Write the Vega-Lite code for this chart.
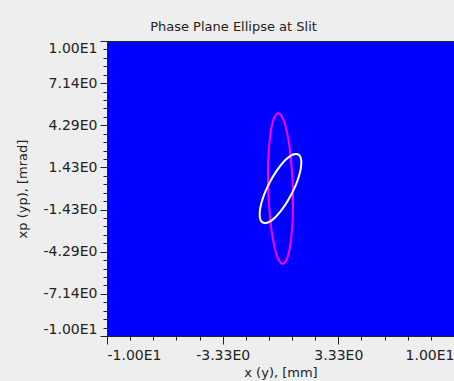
{
  "$schema": "https://vega.github.io/schema/vega-lite/v6.json",
  "width": 347,
  "height": 295,
  "autosize": {"type": "none"},
  "padding": {"left": 107, "top": 41, "right": 0, "bottom": 45},
  "background": "#eeeeee",
  "view": {"fill": "#0000ff", "stroke": "#222222", "strokeWidth": 1},
  "title": {"text": "Phase Plane Ellipse at Slit", "font": "DejaVu Sans", "fontSize": 13, "fontWeight": "normal", "color": "#222222", "anchor": "middle", "frame": "group", "baseline": "bottom", "offset": -6, "dx": -47},
  "config": {
    "axis": {"grid": false, "labelFont": "DejaVu Sans", "labelFontSize": 14, "labelColor": "#222222", "tickColor": "#222222", "domainColor": "#222222", "titleFont": "DejaVu Sans", "titleFontSize": 13, "titleFontWeight": "normal", "titleColor": "#222222"}
  },
  "data": {"values": [
    {"s": "magenta", "t": 0, "x": 0.72, "y": -0.92},
    {"s": "magenta", "t": 1, "x": 0.70, "y": -2.19},
    {"s": "magenta", "t": 2, "x": 0.62, "y": -3.30},
    {"s": "magenta", "t": 3, "x": 0.51, "y": -4.20},
    {"s": "magenta", "t": 4, "x": 0.36, "y": -4.80},
    {"s": "magenta", "t": 5, "x": 0.19, "y": -5.08},
    {"s": "magenta", "t": 6, "x": 0.00, "y": -5.02},
    {"s": "magenta", "t": 7, "x": -0.19, "y": -4.61},
    {"s": "magenta", "t": 8, "x": -0.36, "y": -3.89},
    {"s": "magenta", "t": 9, "x": -0.51, "y": -2.90},
    {"s": "magenta", "t": 10, "x": -0.62, "y": -1.71},
    {"s": "magenta", "t": 11, "x": -0.70, "y": -0.41},
    {"s": "magenta", "t": 12, "x": -0.72, "y": 0.92},
    {"s": "magenta", "t": 13, "x": -0.70, "y": 2.19},
    {"s": "magenta", "t": 14, "x": -0.62, "y": 3.30},
    {"s": "magenta", "t": 15, "x": -0.51, "y": 4.20},
    {"s": "magenta", "t": 16, "x": -0.36, "y": 4.80},
    {"s": "magenta", "t": 17, "x": -0.19, "y": 5.08},
    {"s": "magenta", "t": 18, "x": 0.00, "y": 5.02},
    {"s": "magenta", "t": 19, "x": 0.19, "y": 4.61},
    {"s": "magenta", "t": 20, "x": 0.36, "y": 3.89},
    {"s": "magenta", "t": 21, "x": 0.51, "y": 2.90},
    {"s": "magenta", "t": 22, "x": 0.62, "y": 1.71},
    {"s": "magenta", "t": 23, "x": 0.70, "y": 0.41},
    {"s": "white", "t": 0, "x": 1.20, "y": 1.76},
    {"s": "white", "t": 1, "x": 1.16, "y": 1.30},
    {"s": "white", "t": 2, "x": 1.04, "y": 0.75},
    {"s": "white", "t": 3, "x": 0.85, "y": 0.15},
    {"s": "white", "t": 4, "x": 0.60, "y": -0.46},
    {"s": "white", "t": 5, "x": 0.31, "y": -1.04},
    {"s": "white", "t": 6, "x": 0.00, "y": -1.55},
    {"s": "white", "t": 7, "x": -0.31, "y": -1.96},
    {"s": "white", "t": 8, "x": -0.60, "y": -2.23},
    {"s": "white", "t": 9, "x": -0.85, "y": -2.34},
    {"s": "white", "t": 10, "x": -1.04, "y": -2.30},
    {"s": "white", "t": 11, "x": -1.16, "y": -2.10},
    {"s": "white", "t": 12, "x": -1.20, "y": -1.76},
    {"s": "white", "t": 13, "x": -1.16, "y": -1.30},
    {"s": "white", "t": 14, "x": -1.04, "y": -0.75},
    {"s": "white", "t": 15, "x": -0.85, "y": -0.15},
    {"s": "white", "t": 16, "x": -0.60, "y": 0.46},
    {"s": "white", "t": 17, "x": -0.31, "y": 1.04},
    {"s": "white", "t": 18, "x": 0.00, "y": 1.55},
    {"s": "white", "t": 19, "x": 0.31, "y": 1.96},
    {"s": "white", "t": 20, "x": 0.60, "y": 2.23},
    {"s": "white", "t": 21, "x": 0.85, "y": 2.34},
    {"s": "white", "t": 22, "x": 1.04, "y": 2.30},
    {"s": "white", "t": 23, "x": 1.16, "y": 2.10}
  ]},
  "layer": [
    {
      "mark": {"type": "line", "interpolate": "cardinal-closed", "strokeWidth": 2},
      "encoding": {
        "x": {"field": "x", "type": "quantitative", "scale": {"domain": [-10, 10], "nice": false, "zero": false},
          "axis": {"orient": "bottom", "offset": 0, "values": [-10, -3.333333, 3.333333, 10], "tickSize": 8, "labelPadding": 4, "labelFlush": true, "title": "x (y), [mm]", "titlePadding": 4,
            "labelExpr": "replace(replace(replace(format(datum.value, '.2e'), 'e+', 'E'), 'e-', 'E-'), '\u2212', '-')"}},
        "y": {"field": "y", "type": "quantitative", "scale": {"domain": [-10, 10], "nice": false, "zero": false},
          "axis": {"orient": "left", "offset": 0, "values": [-10, -7.142857, -4.285714, -1.428571, 1.428571, 4.285714, 7.142857, 10], "tickSize": 7, "labelPadding": 3, "labelFlush": true, "title": "xp (yp), [mrad]", "titlePadding": 14,
            "labelExpr": "replace(replace(replace(format(datum.value, '.2e'), 'e+', 'E'), 'e-', 'E-'), '\u2212', '-')"}},
        "color": {"field": "s", "type": "nominal", "scale": {"domain": ["magenta", "white"], "range": ["#ff00ff", "#ffffff"]}, "legend": null},
        "order": {"field": "t", "type": "quantitative"}
      }
    },
    {
      "mark": {"type": "line", "opacity": 0},
      "encoding": {
        "x": {"field": "x", "type": "quantitative",
          "axis": {"orient": "bottom", "offset": 0, "values": [-10, -8.666667, -7.333333, -6, -4.666667, -3.333333, -2, -0.666667, 0.666667, 2, 3.333333, 4.666667, 6, 7.333333, 8.666667, 10], "tickSize": 4, "labels": false, "domain": false, "title": null}},
        "y": {"field": "y", "type": "quantitative",
          "axis": {"orient": "left", "offset": 0, "values": [-10, -9.428571, -8.857143, -8.285714, -7.714286, -7.142857, -6.571429, -6, -5.428571, -4.857143, -4.285714, -3.714286, -3.142857, -2.571429, -2, -1.428571, -0.857143, -0.285714, 0.285714, 0.857143, 1.428571, 2, 2.571429, 3.142857, 3.714286, 4.285714, 4.857143, 5.428571, 6, 6.571429, 7.142857, 7.714286, 8.285714, 8.857143, 9.428571, 10], "tickSize": 4, "labels": false, "domain": false, "title": null}},
        "detail": {"field": "s", "type": "nominal"},
        "order": {"field": "t", "type": "quantitative"}
      }
    }
  ],
  "resolve": {"axis": {"x": "independent", "y": "independent"}}
}
